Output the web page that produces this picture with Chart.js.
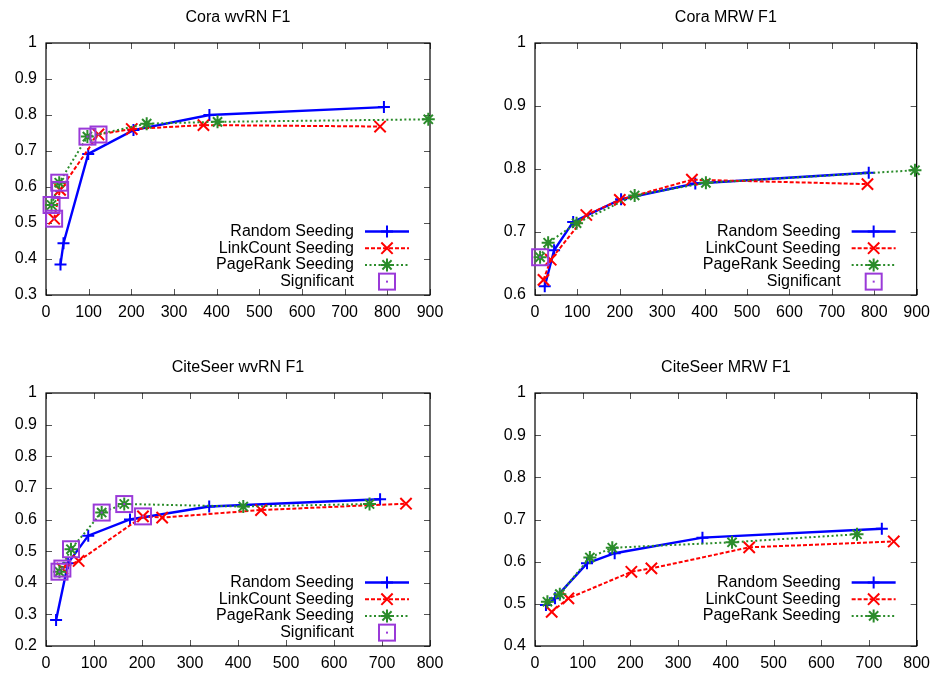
<!DOCTYPE html>
<html>
<head>
<meta charset="utf-8">
<script src="https://cdn.jsdelivr.net/npm/chart.js@4.4.0/dist/chart.umd.min.js"></script>
<style>
  body { margin: 0; background: #fff; width: 938px; height: 673px; position: relative; overflow: hidden; }
  canvas { position: absolute; }
</style>
</head>
<body>
<canvas id="c1" width="469" height="336" style="left:0;top:0"></canvas>
<canvas id="c2" width="469" height="336" style="left:469px;top:0"></canvas>
<canvas id="c3" width="469" height="337" style="left:0;top:336px"></canvas>
<canvas id="c4" width="469" height="337" style="left:469px;top:336px"></canvas>
<script>
"use strict";

// series labels
const seriesLabels = ["Random Seeding", "LinkCount Seeding", "PageRank Seeding", "Significant"];

// Cora wvRN F1
const coraWvrnRandom = [[34, 0.385], [41, 0.444], [99, 0.692], [205, 0.758], [383, 0.80], [792, 0.822]];
const coraWvrnLink = [[19, 0.512], [33, 0.592], [123, 0.746], [201, 0.761], [369, 0.772], [783, 0.768]];
const coraWvrnPage = [[13, 0.55], [31, 0.612], [97, 0.74], [236, 0.776], [402, 0.781], [896, 0.788]];
const coraWvrnSig = [[13, 0.55], [19, 0.512], [31, 0.612], [33, 0.592], [97, 0.74], [123, 0.746]];

// Cora MRW F1
const coraMrwRandom = [[23, 0.614], [45, 0.671], [90, 0.716], [203, 0.752], [378, 0.777], [787, 0.794]];
const coraMrwLink = [[20, 0.624], [37, 0.656], [121, 0.727], [200, 0.751], [370, 0.783], [784, 0.776]];
const coraMrwPage = [[12, 0.66], [31, 0.683], [98, 0.714], [235, 0.758], [403, 0.778], [896, 0.798]];
const coraMrwSig = [[12, 0.66]];

// CiteSeer wvRN F1
const citeWvrnRandom = [[21, 0.282], [46, 0.462], [88, 0.549], [175, 0.60], [340, 0.641], [696, 0.664]];
const citeWvrnLink = [[34, 0.445], [68, 0.469], [202, 0.61], [242, 0.606], [448, 0.63], [750, 0.65]];
const citeWvrnPage = [[28, 0.435], [52, 0.506], [116, 0.622], [163, 0.649], [411, 0.641], [674, 0.649]];
const citeWvrnSig = [[28, 0.435], [34, 0.445], [52, 0.506], [116, 0.622], [163, 0.649], [202, 0.61]];

// CiteSeer MRW F1
const citeMrwRandom = [[23, 0.497], [42, 0.513], [109, 0.596], [167, 0.62], [351, 0.657], [727, 0.678]];
const citeMrwLink = [[35, 0.481], [70, 0.513], [202, 0.576], [244, 0.584], [449, 0.634], [752, 0.648]];
const citeMrwPage = [[26, 0.505], [52, 0.523], [115, 0.61], [162, 0.633], [413, 0.646], [675, 0.665]];

// axis ranges (ticks every 100 on x, 0.1 on y)
const coraXMax = 900;
const citeXMax = 800;
const coraWvrnYMin = 0.3;
const coraMrwYMin = 0.6;
const citeWvrnYMin = 0.2;
const citeMrwYMin = 0.4;

const FONT = '"Liberation Sans", Arial, Helvetica, sans-serif';
const BLUE = "#0000ff";
const RED = "#ff0000";
const GREEN = "#2b8c2b";
const PURPLE = "#9a3ad8";

// square with a dot, like gnuplot's point type 4
function makeSquare() {
  const c = document.createElement("canvas");
  c.width = 20;
  c.height = 20;
  const g = c.getContext("2d");
  g.strokeStyle = PURPLE;
  g.lineWidth = 2;
  g.strokeRect(2, 2, 16, 16);
  g.fillStyle = PURPLE;
  g.fillRect(9, 9, 2, 2);
  return c;
}
const squareMark = makeSquare();

function pts(arr) {
  return arr.map((p) => ({ x: p[0], y: p[1] }));
}

// border + inward ticks on all four sides
const gnuFrame = {
  id: "gnuFrame",
  beforeDatasetsDraw(chart) {
    const { ctx, chartArea: a, scales } = chart;
    ctx.save();
    ctx.strokeStyle = "#555";
    ctx.lineWidth = 1;
    ctx.beginPath();
    scales.x.ticks.forEach((t) => {
      const px = Math.round(scales.x.getPixelForValue(t.value)) + 0.5;
      ctx.moveTo(px, a.bottom);
      ctx.lineTo(px, a.bottom - 6);
      ctx.moveTo(px, a.top);
      ctx.lineTo(px, a.top + 6);
    });
    scales.y.ticks.forEach((t) => {
      const py = Math.round(scales.y.getPixelForValue(t.value)) + 0.5;
      ctx.moveTo(a.left, py);
      ctx.lineTo(a.left + 6, py);
      ctx.moveTo(a.right, py);
      ctx.lineTo(a.right - 6, py);
    });
    ctx.stroke();
    ctx.strokeStyle = "#000";
    ctx.lineWidth = 1.2;
    ctx.strokeRect(a.left, a.top, a.width, a.height);
    ctx.restore();
  },
};

// gnuplot style key: text right aligned, sample on the right
const gnuKey = {
  id: "gnuKey",
  afterDatasetsDraw(chart) {
    const { ctx, chartArea: a } = chart;
    ctx.save();
    ctx.font = "16px " + FONT;
    ctx.textAlign = "right";
    ctx.textBaseline = "middle";
    chart.data.datasets.forEach((ds, i) => {
      const y = a.bottom - 63.5 + i * 16.7;
      const x1 = a.right - 65;
      const x2 = a.right - 21;
      ctx.fillStyle = "#000";
      ctx.fillText(ds.label, a.right - 76, y);
      if (ds.showLine) {
        ctx.strokeStyle = ds.borderColor;
        ctx.lineWidth = ds.borderWidth;
        ctx.setLineDash(ds.borderDash || []);
        ctx.beginPath();
        ctx.moveTo(x1, y);
        ctx.lineTo(x2, y);
        ctx.stroke();
        ctx.setLineDash([]);
      }
      ctx.strokeStyle = ds.borderColor;
      ctx.fillStyle = ds.borderColor;
      ctx.lineWidth = ds.pointBorderWidth;
      Chart.helpers.drawPoint(ctx, {
        pointStyle: ds.pointStyle,
        radius: ds.pointRadius,
        borderWidth: ds.pointBorderWidth,
        rotation: 0,
      }, (x1 + x2) / 2, y);
    });
    ctx.restore();
  },
};

const gnuTitle = {
  id: "gnuTitle",
  afterDraw(chart, args, opts) {
    const { ctx, chartArea: a } = chart;
    ctx.save();
    ctx.font = "16px " + FONT;
    ctx.fillStyle = "#000";
    ctx.textAlign = "center";
    ctx.textBaseline = "middle";
    ctx.fillText(opts.text, (a.left + a.right) / 2, a.top - 25);
    ctx.restore();
  },
};

function series(label, data, color, dash, style, radius, width, order) {
  return {
    label: label,
    data: pts(data),
    showLine: true,
    borderColor: color,
    backgroundColor: color,
    borderWidth: width,
    borderDash: dash,
    pointStyle: style,
    pointRadius: radius,
    pointBorderWidth: 2,
    pointBorderColor: color,
    clip: false,
    order: order,
  };
}

function panel(id, title, random, link, page, sig, xMax, yMin, box) {
  const datasets = [
    series(seriesLabels[0], random, BLUE, [], "cross", 6, 2.4, 4),
    series(seriesLabels[1], link, RED, [4, 2], "crossRot", 8, 2, 3),
    series(seriesLabels[2], page, GREEN, [2, 2.5], "star", 6.5, 2, 2),
  ];
  if (sig) {
    datasets.push({
      label: seriesLabels[3],
      data: pts(sig),
      showLine: false,
      borderColor: PURPLE,
      pointStyle: squareMark,
      pointRadius: 8,
      pointBorderWidth: 2,
      clip: false,
      order: 1,
    });
  }
  const H = document.getElementById(id).height;
  new Chart(id, {
    type: "scatter",
    data: { datasets: datasets },
    plugins: [gnuFrame, gnuKey, gnuTitle],
    options: {
      responsive: false,
      animation: false,
      devicePixelRatio: 1,
      layout: { padding: { left: 0, right: box.right, top: box.top, bottom: 0 } },
      plugins: {
        legend: { display: false },
        tooltip: { enabled: false },
        gnuTitle: { text: title },
      },
      scales: {
        x: {
          type: "linear",
          min: 0,
          max: xMax,
          grid: { display: false, drawTicks: false },
          border: { display: false },
          afterFit: (s) => { s.height = H - box.bottom; },
          ticks: {
            stepSize: 100,
            autoSkip: false,
            maxRotation: 0,
            padding: 8,
            color: "#000",
            font: { family: FONT, size: 16 },
          },
        },
        y: {
          min: yMin,
          max: 1,
          grid: { display: false, drawTicks: false },
          border: { display: false },
          afterFit: (s) => { s.width = box.left; },
          ticks: {
            stepSize: 0.1,
            padding: 9,
            color: "#000",
            font: { family: FONT, size: 16 },
            callback: (v) => String(+v.toFixed(2)),
          },
        },
      },
    },
  });
}

panel("c1", "Cora wvRN F1", coraWvrnRandom, coraWvrnLink, coraWvrnPage, coraWvrnSig,
  coraXMax, coraWvrnYMin, { left: 46, right: 39, top: 43, bottom: 295 });
panel("c2", "Cora MRW F1", coraMrwRandom, coraMrwLink, coraMrwPage, coraMrwSig,
  coraXMax, coraMrwYMin, { left: 66, right: 20, top: 43, bottom: 295 });
panel("c3", "CiteSeer wvRN F1", citeWvrnRandom, citeWvrnLink, citeWvrnPage, citeWvrnSig,
  citeXMax, citeWvrnYMin, { left: 46, right: 39, top: 57, bottom: 310 });
panel("c4", "CiteSeer MRW F1", citeMrwRandom, citeMrwLink, citeMrwPage, null,
  citeXMax, citeMrwYMin, { left: 66, right: 20, top: 57, bottom: 310 });
</script>
</body>
</html>
